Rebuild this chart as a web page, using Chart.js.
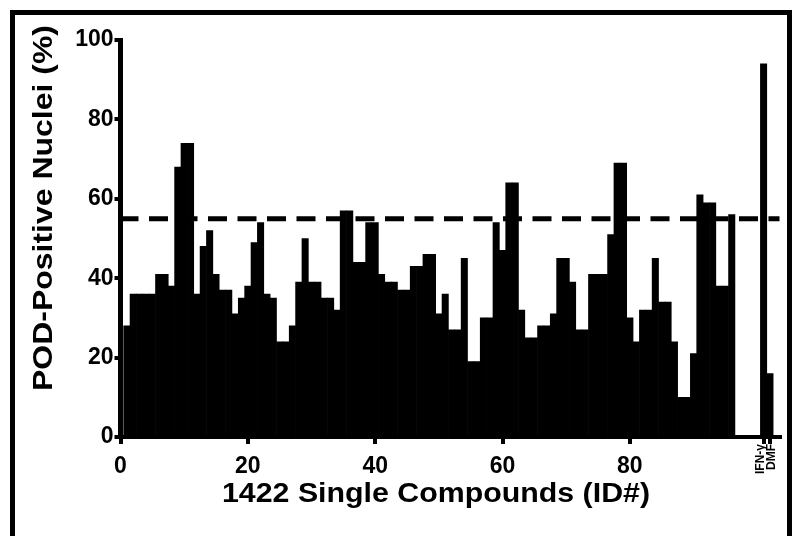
<!DOCTYPE html>
<html>
<head>
<meta charset="utf-8">
<title>POD-Positive Nuclei screen</title>
<script src="https://cdn.jsdelivr.net/npm/chart.js@4.4.1/dist/chart.umd.min.js"></script>
<style>
  html, body { margin: 0; padding: 0; background: #fff; }
</style>
</head>
<body>
<canvas id="podChart" width="796" height="536"></canvas>
<script>
// Percent POD-positive nuclei for compound IDs 1..96, in plate order
const compoundPct = [
  28, 36, 36, 36, 36, 41, 41, 38, 68, 74,
  74, 36, 48, 52, 41, 37, 37, 31, 35, 38,
  49, 54, 36, 35, 24, 24, 28, 39, 50, 39,
  39, 35, 35, 32, 57, 57, 44, 44, 54, 54,
  41, 39, 39, 37, 37, 43, 43, 46, 46, 31,
  36, 27, 27, 45, 19, 19, 30, 30, 54, 47,
  64, 64, 32, 25, 25, 28, 28, 31, 45, 45,
  39, 27, 27, 41, 41, 41, 51, 69, 69, 30,
  24, 32, 32, 45, 34, 34, 24, 10, 10, 21,
  61, 59, 59, 38, 38, 56
];

// Controls, placed after the compound block
const controlNames = ['IFN-γ', 'DMF'];
const controlPos = [101, 102];
const controlPct = [94, 16];

const cutoffPct = 55;
const xTickValues = [0, 20, 40, 60, 80];
const yTickValues = [0, 20, 40, 60, 80, 100];

const FONT = '"Liberation Sans", Arial, Helvetica, sans-serif';

const barPoints = compoundPct.map((v, i) => ({ x: i + 1, y: v }))
  .concat(controlPct.map((v, i) => ({ x: controlPos[i], y: v })));

// bold title text stretched sideways to a given run length
function drawWideText(ctx, text, cx, cy, angle, length, size) {
  ctx.save();
  ctx.font = 'bold ' + size + 'px ' + FONT;
  ctx.textAlign = 'center';
  ctx.textBaseline = 'middle';
  ctx.translate(cx, cy);
  ctx.rotate(angle);
  ctx.scale(length / ctx.measureText(text).width, 1);
  ctx.fillText(text, 0, 0);
  ctx.restore();
}

// Cutoff line, outer frame, axis titles, rotated control labels
const decorations = {
  id: 'decorations',
  beforeDraw(chart) {
    const ctx = chart.ctx;
    ctx.save();
    ctx.fillStyle = '#fff';
    ctx.fillRect(0, 0, chart.width, chart.height);
    ctx.restore();
  },
  afterDatasetsDraw(chart) {
    const ctx = chart.ctx;
    const area = chart.chartArea;
    const y = chart.scales.y.getPixelForValue(cutoffPct);
    ctx.save();
    ctx.strokeStyle = '#000';
    ctx.lineWidth = 5;
    ctx.setLineDash([19, 10.5]);
    ctx.beginPath();
    ctx.moveTo(area.left - 1, y);
    ctx.lineTo(area.right, y);
    ctx.stroke();
    ctx.restore();
  },
  afterDraw(chart) {
    const ctx = chart.ctx;
    const area = chart.chartArea;
    ctx.save();

    // frame
    ctx.fillStyle = '#000';
    ctx.fillRect(10, 10, 5, chart.height - 10);
    ctx.fillRect(10, 10, chart.width - 14, 5);
    ctx.fillRect(chart.width - 9, 10, 5, chart.height - 10);

    // axis titles
    drawWideText(ctx, '1422 Single Compounds (ID#)', 436, 494, 0, 428, 28);
    drawWideText(ctx, 'POD-Positive Nuclei (%)', 44, 208, -Math.PI / 2, 366, 28);

    // control names, written upward under their bars
    const xs = chart.scales.x;
    const mid = (xs.getPixelForValue(controlPos[0]) + xs.getPixelForValue(controlPos[1])) / 2;
    const labelX = [mid - 6, mid + 5];
    ctx.font = 'bold 12px ' + FONT;
    ctx.textAlign = 'right';
    ctx.textBaseline = 'middle';
    controlNames.forEach((name, i) => {
      ctx.save();
      ctx.translate(labelX[i], area.bottom + 7);
      ctx.rotate(-Math.PI / 2);
      ctx.fillText(name, 0, 0);
      ctx.restore();
    });
    ctx.restore();
  }
};

new Chart(document.getElementById('podChart'), {
  type: 'bar',
  data: {
    datasets: [{
      data: barPoints,
      backgroundColor: '#000',
      borderWidth: 0,
      barPercentage: 1,
      categoryPercentage: 1
    }]
  },
  options: {
    responsive: false,
    animation: false,
    layout: { padding: { top: 40, right: 16.5, left: 0, bottom: 0 } },
    plugins: {
      legend: { display: false },
      tooltip: { enabled: false }
    },
    scales: {
      x: {
        type: 'linear',
        min: 0,
        max: 103.5,
        offset: false,
        afterBuildTicks: s => { s.ticks = xTickValues.concat(controlPos).map(v => ({ value: v })); },
        afterFit: s => { s.height = 99; },
        border: { display: true, color: '#000', width: 4 },
        grid: { offset: false, drawOnChartArea: false, drawTicks: true, tickLength: 7, lineWidth: 4, color: '#000' },
        ticks: {
          color: '#000',
          padding: 9,
          maxRotation: 0,
          autoSkip: false,
          font: { family: FONT, size: 23, weight: 'bold' },
          callback: v => controlPos.includes(v) ? '' : v
        }
      },
      y: {
        min: 0,
        max: 100,
        afterBuildTicks: s => { s.ticks = yTickValues.map(v => ({ value: v })); },
        afterFit: s => { s.width = 120.5; },
        border: { display: true, color: '#000', width: 5 },
        grid: { drawOnChartArea: false, drawTicks: true, tickLength: 6, lineWidth: 4, color: '#000' },
        ticks: {
          color: '#000',
          padding: 1,
          font: { family: FONT, size: 23, weight: 'bold' }
        }
      }
    }
  },
  plugins: [decorations]
});
</script>
</body>
</html>
